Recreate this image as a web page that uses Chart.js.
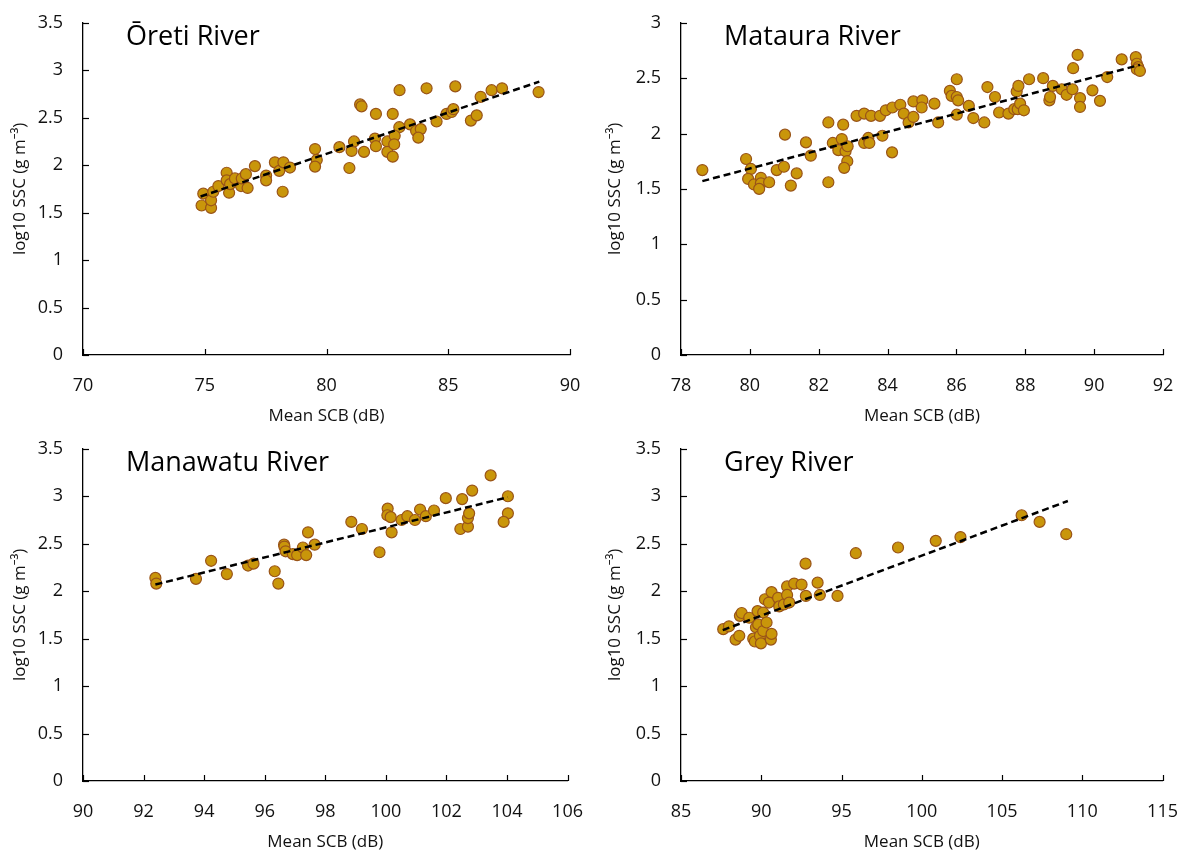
<!DOCTYPE html>
<html>
<head>
<meta charset="utf-8">
<script src="https://cdn.jsdelivr.net/npm/chart.js@4.4.1/dist/chart.umd.min.js"></script>
<style>
  body { margin: 0; background: #fff; }
  .panel { position: absolute; width: 595px; height: 426px; }
</style>
</head>
<body>
<div class="panel" style="left:0;top:0"><canvas id="oreti_Chart" width="595" height="426"></canvas></div>
<div class="panel" style="left:595px;top:0"><canvas id="mataura_Chart" width="595" height="426"></canvas></div>
<div class="panel" style="left:0;top:426px"><canvas id="manawatu_Chart" width="595" height="426"></canvas></div>
<div class="panel" style="left:595px;top:426px"><canvas id="grey_Chart" width="595" height="426"></canvas></div>
<script>
// Ōreti
const oretiSCB = [74.87, 75.26, 74.94, 75.26, 75.35, 75.56, 75.90, 75.90, 76.00, 76.04, 76.24, 76.49, 76.52, 76.69, 76.76,
    77.06, 77.52, 77.52, 77.88, 78.06, 78.23, 78.20, 78.50, 79.53, 79.60, 79.53, 80.53, 80.94, 81.03, 81.13, 81.38, 81.44,
    81.54, 82.03, 81.99, 82.03, 82.50, 82.50, 82.72, 82.72, 83.00, 84.11, 85.29, 82.99, 82.80, 82.78, 83.43, 83.68, 83.87,
    83.77, 84.52, 84.93, 85.14, 85.21, 85.93, 86.17, 86.33, 86.78, 87.21, 88.71];
const oretiSSC = [1.575, 1.55, 1.70, 1.63, 1.72, 1.78, 1.92, 1.84, 1.71, 1.80, 1.86, 1.78, 1.86, 1.905, 1.76,
    1.99, 1.89, 1.84, 2.03, 1.94, 2.03, 1.72, 1.975, 2.17, 2.055, 1.985, 2.19, 1.97, 2.15, 2.25, 2.64, 2.62,
    2.14, 2.54, 2.28, 2.20, 2.25, 2.14, 2.54, 2.09, 2.79, 2.81, 2.83, 2.40, 2.31, 2.22, 2.43, 2.36, 2.38,
    2.29, 2.46, 2.54, 2.56, 2.59, 2.47, 2.525, 2.72, 2.79, 2.81, 2.77];
const oretiFitX = [74.83, 88.74];
const oretiFitY = [1.67, 2.88];

// Mataura
const matauraSCB = [78.62, 79.89, 80.03, 79.95, 80.12, 80.32, 80.32, 80.27, 80.56, 80.78, 80.99, 81.02, 81.19, 81.36, 81.63,
    81.77, 82.28, 82.28, 82.41, 82.57, 82.67, 82.71, 82.78, 82.84, 82.83, 82.74, 83.10, 83.32, 83.52, 83.32, 83.44, 83.47,
    83.78, 83.85, 83.95, 84.13, 84.14, 84.37, 84.47, 84.61, 84.75, 84.75, 85.01, 84.99, 85.36, 85.47, 85.81, 85.86, 86.01,
    86.05, 86.01, 86.01, 86.36, 86.49, 86.81, 86.90, 87.12, 87.24, 87.51, 87.75, 87.80, 87.68, 87.78, 87.85, 87.96, 88.11,
    88.52, 88.70, 88.72, 88.80, 89.06, 89.20, 89.37, 89.39, 89.52, 89.59, 89.59, 89.95, 90.17, 90.38, 90.80, 91.21, 91.24,
    91.28, 91.24, 91.33];
const matauraSSC = [1.67, 1.77, 1.68, 1.59, 1.54, 1.60, 1.55, 1.50, 1.56, 1.67, 1.70, 1.99, 1.53, 1.64, 1.92,
    1.80, 2.10, 1.56, 1.915, 1.85, 1.95, 2.08, 1.84, 1.885, 1.75, 1.69, 2.16, 2.18, 2.16, 1.915, 1.96, 1.915,
    2.16, 1.98, 2.21, 1.83, 2.235, 2.26, 2.18, 2.10, 2.15, 2.29, 2.30, 2.235, 2.27, 2.10, 2.385, 2.34, 2.33,
    2.30, 2.49, 2.17, 2.25, 2.14, 2.10, 2.42, 2.33, 2.19, 2.18, 2.38, 2.43, 2.22, 2.22, 2.27, 2.21, 2.49,
    2.50, 2.30, 2.33, 2.43, 2.40, 2.35, 2.40, 2.59, 2.71, 2.32, 2.24, 2.39, 2.295, 2.51, 2.67, 2.69, 2.63,
    2.60, 2.58, 2.565];
const matauraFitX = [78.62, 91.33];
const matauraFitY = [1.57, 2.62];

// Manawatu
const manawatuSCB = [92.39, 92.42, 93.73, 94.23, 94.75, 95.45, 95.63, 96.33, 96.45, 96.64, 96.65, 96.69, 96.93, 97.07,
    97.26, 97.37, 97.43, 97.65, 98.86, 99.21, 99.79, 100.19, 100.06, 100.05, 100.16, 100.52, 100.71, 100.96, 101.13,
    101.32, 101.59, 101.98, 102.52, 102.85, 102.46, 102.71, 102.71, 102.75, 103.46, 104.03, 104.03, 103.89];
const manawatuSSC = [2.14, 2.08, 2.13, 2.32, 2.18, 2.27, 2.29, 2.21, 2.08, 2.49, 2.47, 2.42, 2.39, 2.38,
    2.46, 2.38, 2.62, 2.49, 2.73, 2.655, 2.41, 2.62, 2.87, 2.80, 2.78, 2.75, 2.79, 2.75, 2.86,
    2.79, 2.85, 2.98, 2.97, 3.06, 2.655, 2.68, 2.77, 2.82, 3.22, 3.00, 2.82, 2.73];
const manawatuFitX = [92.39, 104.03];
const manawatuFitY = [2.07, 2.99];

// Grey
const greySCB = [87.63, 87.99, 88.40, 88.63, 88.67, 88.78, 89.25, 89.50, 89.60, 89.67, 89.77, 89.81, 89.92, 89.98,
    90.12, 90.12, 90.33, 90.23, 90.48, 90.60, 90.64, 90.64, 91.05, 91.12, 91.41, 91.61, 91.61, 91.74, 92.05, 92.51,
    92.76, 92.78, 93.51, 93.65, 94.75, 95.89, 98.52, 100.87, 102.41, 106.22, 107.34, 109.00];
const greySSC = [1.60, 1.63, 1.49, 1.53, 1.74, 1.77, 1.72, 1.50, 1.47, 1.62, 1.79, 1.65, 1.53, 1.45,
    1.775, 1.58, 1.67, 1.915, 1.88, 1.49, 1.55, 1.99, 1.93, 1.84, 1.86, 2.05, 1.96, 1.88, 2.08, 2.07,
    2.29, 1.95, 2.09, 1.96, 1.95, 2.40, 2.46, 2.53, 2.57, 2.80, 2.73, 2.60];
const greyFitX = [87.6, 109.1];
const greyFitY = [1.59, 2.95];

const yTicks = [0, 0.5, 1, 1.5, 2, 2.5, 3, 3.5];

const FONT = '"Open Sans", "Noto Sans", sans-serif';
const TEXT = '#111';

// 안쪽 눈금 + 패널 제목
const panelDecor = {
    id: 'panelDecor',
    afterDraw(chart, args, opts) {
        const ctx = chart.ctx;
        const area = chart.chartArea;
        const xs = chart.scales.x, ys = chart.scales.y;
        ctx.save();
        ctx.strokeStyle = '#000';
        ctx.lineWidth = 1.2;
        xs.ticks.forEach(t => {
            const px = Math.round(xs.getPixelForValue(t.value)) + 0.5;
            ctx.beginPath();
            ctx.moveTo(px, area.bottom);
            ctx.lineTo(px, area.bottom - 6);
            ctx.stroke();
        });
        ys.ticks.forEach(t => {
            const py = Math.round(ys.getPixelForValue(t.value)) + 0.5;
            ctx.beginPath();
            ctx.moveTo(area.left, py);
            ctx.lineTo(area.left + 6, py);
            ctx.stroke();
        });
        ctx.fillStyle = '#000';
        ctx.font = '27px ' + FONT;
        ctx.textBaseline = 'middle';
        ctx.textAlign = 'left';
        ctx.fillText(opts.title, area.left + 43, area.top + 15);
        ctx.restore();
    }
};

function makeChart(id, title, xs, ys, fitX, fitY, xMin, xMax, xStep, yMax, yAxisW, rightPad) {
    const points = xs.map((v, i) => ({ x: v, y: ys[i] }));
    const fit = fitX.map((v, i) => ({ x: v, y: fitY[i] }));
    const ctx = document.getElementById(id).getContext('2d');
    return new Chart(ctx, {
        type: 'scatter',
        data: {
            datasets: [{
                data: fit,
                showLine: true,
                borderColor: '#000',
                borderWidth: 2.5,
                borderDash: [7, 4],
                pointRadius: 0,
                fill: false,
            }, {
                data: points,
                backgroundColor: '#C9960A',
                borderColor: '#9A5418',
                borderWidth: 1.2,
                pointRadius: 5.5,
            }]
        },
        options: {
            responsive: false,
            animation: false,
            devicePixelRatio: 1,
            layout: {
                padding: { top: 7, right: rightPad, left: 0, bottom: 0 }
            },
            plugins: {
                legend: { display: false },
                tooltip: { enabled: false },
                panelDecor: { title: title },
            },
            scales: {
                x: {
                    type: 'linear',
                    min: xMin,
                    max: xMax,
                    grid: { display: false },
                    border: { display: true, color: '#000', width: 1.3 },
                    ticks: {
                        stepSize: xStep,
                        padding: 12,
                        color: TEXT,
                        font: { family: FONT, size: 18 },
                        maxRotation: 0,
                        callback: v => String(v),
                    },
                    title: {
                        display: true,
                        text: 'Mean SCB (dB)',
                        color: TEXT,
                        font: { family: FONT, size: 17 },
                        padding: { top: 0, bottom: 0 },
                    },
                    afterFit: axis => { axis.height = 71; },
                },
                y: {
                    type: 'linear',
                    min: 0,
                    max: yMax,
                    afterBuildTicks: axis => {
                        axis.ticks = yTicks.filter(v => v <= yMax).map(v => ({ value: v }));
                    },
                    grid: { display: false },
                    border: { display: true, color: '#000', width: 1.3 },
                    ticks: {
                        padding: 12,
                        color: TEXT,
                        font: { family: FONT, size: 18 },
                        callback: v => String(v),
                    },
                    title: {
                        display: true,
                        text: 'log10 SSC (g m⁻³)',
                        color: TEXT,
                        font: { family: FONT, size: 17 },
                        padding: { top: 10, bottom: 0 },
                    },
                    afterFit: axis => { axis.width = yAxisW; },
                }
            }
        },
        plugins: [panelDecor]
    });
}

makeChart('oreti_Chart', 'Ōreti River', oretiSCB, oretiSSC, oretiFitX, oretiFitY, 70, 90, 5, 3.5, 83, 25);
makeChart('mataura_Chart', 'Mataura River', matauraSCB, matauraSSC, matauraFitX, matauraFitY, 78, 92, 2, 3, 86, 27);
makeChart('manawatu_Chart', 'Manawatu River', manawatuSCB, manawatuSSC, manawatuFitX, manawatuFitY, 90, 106, 2, 3.5, 83, 25);
makeChart('grey_Chart', 'Grey River', greySCB, greySSC, greyFitX, greyFitY, 85, 115, 5, 3.5, 86, 27);
</script>
</body>
</html>
